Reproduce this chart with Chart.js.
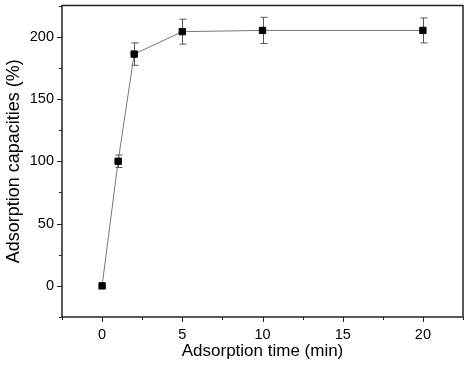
<!DOCTYPE html>
<html>
<head>
<meta charset="utf-8">
<script src="https://cdn.jsdelivr.net/npm/chart.js@4"></script>
<style>
  html, body { margin: 0; padding: 0; background: #fff; }
  #wrap { width: 472px; height: 372px; }
</style>
</head>
<body>
<div id="wrap"><canvas id="myChart1" width="472" height="372"></canvas></div>
<script>
// values
const times = [0, 1, 2, 5, 10, 20];
const capacities = [0, 100, 186, 204, 205, 205];
const errors = [0, 5, 9, 10, 10.5, 10];
const xTicks = [0, 5, 10, 15, 20];
const yTicks = [0, 50, 100, 150, 200];

// error bars + frame and tick marks, drawn through the chart's scales
const frameAndErrors = {
  id: 'frameAndErrors',
  beforeDatasetsDraw(chart) {
    const ctx = chart.ctx, x = chart.scales.x, y = chart.scales.y;
    ctx.save();
    ctx.strokeStyle = '#555';
    ctx.lineWidth = 1;
    times.forEach((t, i) => {
      if (!errors[i]) return;
      const px = Math.round(x.getPixelForValue(t)) + 0.5;
      const top = y.getPixelForValue(capacities[i] + errors[i]);
      const bot = y.getPixelForValue(capacities[i] - errors[i]);
      ctx.beginPath();
      ctx.moveTo(px, top); ctx.lineTo(px, bot);
      ctx.moveTo(px - 3, top); ctx.lineTo(px + 4, top);
      ctx.moveTo(px - 3, bot); ctx.lineTo(px + 4, bot);
      ctx.stroke();
    });
    ctx.restore();
  },
  afterDraw(chart) {
    const ctx = chart.ctx, a = chart.chartArea, x = chart.scales.x, y = chart.scales.y;
    ctx.save();
    ctx.strokeStyle = '#222';
    ctx.lineWidth = 1.5;
    ctx.strokeRect(a.left, a.top, a.right - a.left, a.bottom - a.top);
    ctx.lineWidth = 1;
    ctx.beginPath();
    for (let v = -2.5; v <= 22.5; v += 2.5) {
      const px = Math.round(x.getPixelForValue(v)) + 0.5;
      const len = (v % 5 === 0) ? 5 : 3;
      ctx.moveTo(px, a.bottom); ctx.lineTo(px, a.bottom + len);
    }
    for (let v = -25; v <= 225; v += 25) {
      const py = Math.round(y.getPixelForValue(v)) + 0.5;
      const len = (v % 50 === 0) ? 5 : 3;
      ctx.moveTo(a.left, py); ctx.lineTo(a.left - len, py);
    }
    ctx.stroke();
    ctx.restore();
  }
};

const ctx = document.getElementById('myChart1').getContext('2d');
const myChart = new Chart(ctx, {
  type: 'line',
  data: {
    datasets: [{
      data: times.map((t, i) => ({ x: t, y: capacities[i] })),
      borderColor: '#777',
      borderWidth: 1,
      backgroundColor: '#000',
      pointStyle: 'rect',
      pointRadius: 4.5,
      pointBorderColor: '#000',
      pointBorderWidth: 1,
      fill: false,
    }]
  },
  options: {
    responsive: false,
    animation: false,
    layout: { padding: { top: 4, right: 9, left: 0, bottom: 0 } },
    plugins: { legend: { display: false }, tooltip: { enabled: false } },
    scales: {
      x: {
        type: 'linear',
        min: -2.5, max: 22.5,
        afterBuildTicks: (s) => { s.ticks = xTicks.map(v => ({ value: v })); },
        afterFit: (s) => { s.height = 55; s.paddingLeft = 0; s.paddingRight = 0; },
        grid: { display: false, drawTicks: false },
        border: { display: false },
        ticks: { color: '#000', font: { family: 'Liberation Sans', size: 14.5 }, padding: 9 },
        title: { display: true, text: 'Adsorption time (min)', color: '#000', font: { family: 'Liberation Sans', size: 17 }, padding: { top: 0, bottom: 10 } }
      },
      y: {
        min: -25, max: 225,
        afterBuildTicks: (s) => { s.ticks = yTicks.map(v => ({ value: v })); },
        afterFit: (s) => { s.width = 62; s.paddingTop = 0; s.paddingBottom = 0; },
        grid: { display: false, drawTicks: false },
        border: { display: false },
        ticks: { color: '#000', font: { family: 'Liberation Sans', size: 14.5 }, padding: 8 },
        title: { display: true, text: 'Adsorption capacities (%)', color: '#000', font: { family: 'Liberation Sans', size: 18 }, padding: { top: 3, bottom: 0 } }
      }
    }
  },
  plugins: [frameAndErrors]
});
</script>
</body>
</html>
